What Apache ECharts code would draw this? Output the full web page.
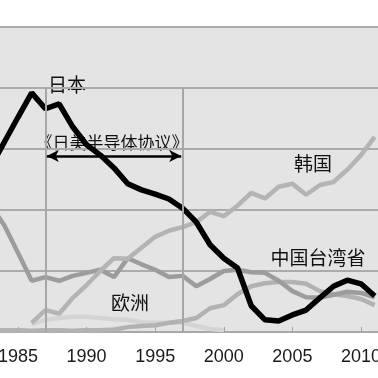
<!DOCTYPE html>
<html>
<head>
<meta charset="utf-8">
<script src="https://cdn.jsdelivr.net/npm/echarts@6/dist/echarts.min.js"></script>
<style>
  html, body { margin: 0; padding: 0; background: #fff; }
  #chart { width: 378px; height: 378px; }
</style>
</head>
<body>
<div id="chart"></div>
<script>
// 年份
var years = [1983, 1984, 1985, 1986, 1987, 1988, 1989, 1990, 1991, 1992,
  1993, 1994, 1995, 1996, 1997, 1998, 1999, 2000, 2001, 2002,
  2003, 2004, 2005, 2006, 2007, 2008, 2009, 2010, 2011];
var tickYears = [1985, 1990, 1995, 2000, 2005, 2010];

// 各地区份额
var japan = [27.0, 31.1, 35.2, 39.2, 36.6, 37.4, 33.6, 30.7, 29.0, 26.9,
  24.3, 23.3, 22.6, 21.8, 20.3, 18.0, 14.3, 12.1, 10.5, 4.3,
  2.0, 1.8, 2.8, 3.6, 5.6, 7.5, 8.5, 7.9, 5.9];
var us = [20.8, 17.5, 13.0, 8.4, 9.0, 8.4, 9.2, 9.7, 10.2, 9.0,
  12.1, 11.1, 10.2, 9.0, 9.2, 7.5, 8.7, 10.0, 10.2, 9.8,
  9.7, 8.4, 6.7, 5.7, 5.6, 6.1, 6.6, 6.4, 5.7];
var korea = [null, null, null, 1.5, 3.6, 3.0, 5.6, 7.7, 10.0, 12.1,
  12.0, 13.8, 15.6, 16.6, 17.2, 18.0, 19.7, 19.0, 20.7, 22.8,
  21.9, 23.8, 24.3, 22.5, 24.1, 24.6, 26.6, 29.0, 32.0];
var taiwan = [0.2, 0.3, 0.3, 0.2, 0.3, 0.3, 0.2, 0.3, 0.3, 0.4,
  0.8, 1.0, 1.1, 1.5, 1.8, 2.3, 3.9, 4.4, 6.2, 7.5,
  8.0, 8.2, 8.2, 7.9, 6.7, 6.2, 5.9, 5.4, 4.4];
var europe = [null, null, null, 1.3, 2.0, 2.3, 2.5, 2.5, 2.3, 2.1,
  2.0, 1.6, 1.5, 1.5, 1.5, 1.0, 0.5, 0.3, null, null,
  null, null, null, null, null, null, null, null, null];

// 协议期间
var agreement = [1987, 1997];

function pairs(arr) {
  var out = [];
  for (var i = 0; i < years.length; i++) {
    out.push([years[i], arr[i]]);
  }
  return out;
}

var myChart = echarts.init(document.getElementById('chart'));
var cjk = '"Noto Sans CJK SC", sans-serif';

var option = {
  animation: false,
  grid: {
    left: 0, right: 0, top: 27, bottom: 46,
    containLabel: false,
    outerBoundsMode: 'none',
    show: true, backgroundColor: '#e4e4e4', borderWidth: 0
  },
  xAxis: {
    type: 'value',
    min: 1983.69,
    max: 2011.24,
    splitLine: { show: false },
    axisLine: { show: true, lineStyle: { color: '#a8a8a8', width: 2 } },
    axisTick: {
      show: true, inside: true, length: 5,
      customValues: tickYears,
      lineStyle: { color: '#a0a0a0', width: 1 }
    },
    axisLabel: {
      customValues: tickYears,
      margin: 16,
      color: '#1a1a1a',
      fontSize: 18,
      fontFamily: 'Liberation Sans, Arial, sans-serif',
      formatter: function (v) { return String(v); }
    }
  },
  yAxis: {
    type: 'value',
    min: 0, max: 50, interval: 10,
    axisLabel: { show: false },
    axisLine: { show: false },
    axisTick: { show: false },
    splitLine: { show: true, lineStyle: { color: '#ababab', width: 2 } }
  },
  series: [
    {
      name: 'marks',
      type: 'line',
      data: [],
      silent: true,
      markLine: {
        silent: true,
        symbol: ['none', 'none'],
        label: { show: false },
        lineStyle: { color: '#a6a6a6', width: 2, type: 'solid' },
        data: [
          [{ coord: [agreement[0], 40] }, { coord: [agreement[0], 0] }],
          [{ coord: [agreement[1], 40] }, { coord: [agreement[1], 0] }]
        ]
      }
    },
    {
      name: '欧洲', type: 'line', symbol: 'none', data: pairs(europe),
      lineStyle: { color: '#d4d4d4', width: 4.5 }
    },
    {
      name: '中国台湾省', type: 'line', symbol: 'none', data: pairs(taiwan),
      lineStyle: { color: '#b2b2b2', width: 4.5 }
    },
    {
      name: '美国', type: 'line', symbol: 'none', data: pairs(us),
      lineStyle: { color: '#9c9c9c', width: 4.5 }
    },
    {
      name: '韩国', type: 'line', symbol: 'none', data: pairs(korea),
      lineStyle: { color: '#b4b4b4', width: 4.5 }
    },
    {
      name: '日本', type: 'line', symbol: 'none', data: pairs(japan),
      lineStyle: { color: '#000', width: 5.5 },
      markLine: {
        silent: true,
        symbol: ['arrow', 'arrow'],
        symbolSize: [9, 12],
        label: { show: false },
        lineStyle: { color: '#000', width: 2.5, type: 'solid' },
        data: [
          [{ coord: [agreement[0] + 0.1, 28.85] }, { coord: [agreement[1] - 0.1, 28.85] }]
        ]
      }
    }
  ],
  graphic: [
    { type: 'text', x: 67, y: 85, style: { text: '日本', font: '19px ' + cjk, fill: '#111', align: 'center', verticalAlign: 'middle' } },
    { type: 'text', x: 112, y: 143, style: { text: '《日美半导体协议》', font: '17px ' + cjk, fill: '#111', align: 'center', verticalAlign: 'middle' } },
    { type: 'text', x: 313, y: 164, style: { text: '韩国', font: '19px ' + cjk, fill: '#111', align: 'center', verticalAlign: 'middle' } },
    { type: 'text', x: 318, y: 258, style: { text: '中国台湾省', font: '19px ' + cjk, fill: '#111', align: 'center', verticalAlign: 'middle' } },
    { type: 'text', x: 130, y: 303, style: { text: '欧洲', font: '19px ' + cjk, fill: '#111', align: 'center', verticalAlign: 'middle' } }
  ]
};
myChart.setOption(option);
</script>
</body>
</html>
